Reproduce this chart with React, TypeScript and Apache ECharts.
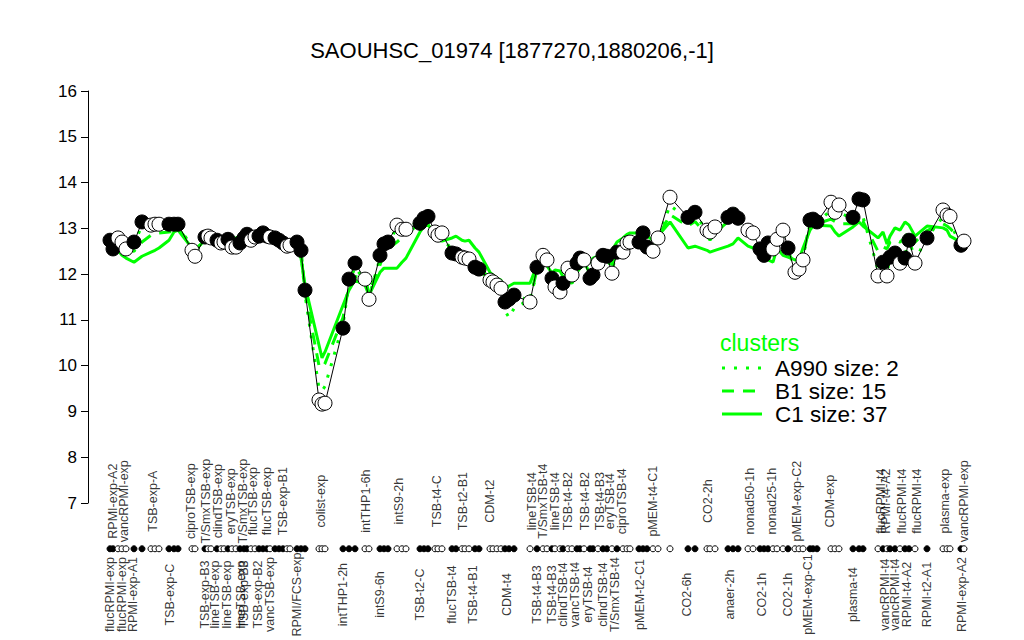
import React, { useEffect, useRef } from "react";
import * as echarts from "echarts";

// sample positions along the condition axis (with gaps between condition groups)
const samplePos = [
  22, 25, 30, 34, 38, 46, 54, 63, 67, 71, 81, 86, 90, 104, 107, 117, 120, 123, 129, 133,
  136, 140, 144, 148, 152, 156, 159, 163, 167, 171, 175, 179, 182, 187, 191, 195, 199, 202, 209, 213,
  217, 231, 234, 237, 255, 261, 267, 277, 281, 292, 296, 300, 309, 314, 318, 332, 336, 340, 347, 350,
  354, 364, 368, 374, 377, 381, 387, 391, 402, 405, 409, 413, 417, 421, 426, 442, 449, 455, 459, 464,
  467, 472, 475, 480, 484, 489, 492, 496, 502, 505, 510, 515, 519, 524, 529, 535, 539, 542, 551, 555,
  559, 565, 570, 582, 600, 607, 619, 622, 627, 640, 645, 650, 660, 665, 672, 676, 680, 685, 689, 695,
  700, 707, 711, 715, 722, 725, 729, 743, 747, 751, 765, 771, 775, 790, 795, 799, 802, 807, 812, 817,
  821, 827, 839, 855, 859, 862, 873, 876,
];

// expression of SAOUHSC_01974 per sample
const expression = [
  12.74, 12.55, 12.79, 12.7, 12.55, 12.7, 13.14, 13.07, 13.09, 13.09, 13.09, 13.09, 13.09, 12.52, 12.39, 12.81, 12.83, 12.79, 12.74, 12.68,
  12.7, 12.76, 12.59, 12.59, 12.68, 12.79, 12.87, 12.74, 12.81, 12.83, 12.9, 12.83, 12.81, 12.79, 12.74, 12.68, 12.61, 12.63, 12.7, 12.52,
  11.65, 9.25, 9.16, 9.18, 10.82, 11.89, 12.24, 11.89, 11.45, 12.41, 12.66, 12.7, 13.07, 12.98, 12.98, 13.11, 13.22, 13.26, 12.92, 12.85,
  12.9, 12.46, 12.44, 12.37, 12.35, 12.33, 12.15, 12.11, 11.87, 11.83, 11.76, 11.69, 11.39, 11.45, 11.54, 11.39, 12.15, 12.41, 12.31, 11.91,
  11.72, 11.61, 11.8, 12.13, 11.98, 12.24, 12.35, 12.31, 11.91, 11.98, 12.24, 12.41, 12.39, 12.02, 12.48, 12.48, 12.68, 12.7, 12.7, 12.9,
  12.59, 12.5, 12.79, 13.68, 13.24, 13.35, 12.96, 12.92, 13.03, 13.24, 13.31, 13.22, 12.96, 12.9, 12.55, 12.41, 12.68, 12.55, 12.76, 12.96,
  12.57, 12.04, 12.11, 12.31, 13.18, 13.2, 13.14, 13.57, 13.35, 13.51, 13.24, 13.64, 13.62, 11.96, 12.26, 11.96, 12.37, 12.46, 12.24, 12.35,
  12.74, 12.24, 12.79, 13.4, 13.29, 13.26, 12.63, 12.72,
];

// 1 = filled marker, 0 = open marker
const isFilled = [
  1, 1, 0, 0, 0, 1, 1, 0, 0, 0, 1, 1, 1, 0, 0, 1, 0, 0, 1, 0,
  0, 1, 0, 0, 1, 1, 1, 0, 0, 1, 1, 1, 0, 1, 1, 1, 0, 0, 1, 1,
  1, 0, 0, 0, 1, 1, 1, 0, 0, 1, 1, 1, 0, 0, 0, 1, 1, 1, 0, 0,
  0, 1, 1, 0, 0, 0, 1, 1, 0, 0, 0, 0, 1, 1, 1, 0, 1, 0, 0, 1,
  0, 0, 1, 0, 0, 1, 1, 0, 1, 1, 0, 1, 1, 0, 1, 0, 0, 0, 1, 1,
  1, 0, 0, 0, 1, 1, 0, 0, 0, 1, 1, 1, 0, 0, 1, 1, 1, 0, 0, 0,
  1, 0, 0, 0, 1, 1, 1, 0, 0, 0, 1, 1, 1, 0, 1, 0, 1, 1, 0, 1,
  1, 0, 1, 0, 0, 0, 1, 0,
];

// cluster mean profiles
const clusterC1 = [
  12.63, 12.59, 12.52, 12.41, 12.35, 12.26, 12.39, 12.48, 12.52, 12.57, 12.74, 12.92, 12.96, 12.57, 12.52, 12.74, 12.79, 12.74, 12.7, 12.74,
  12.79, 12.83, 12.74, 12.79, 12.83, 12.87, 12.92, 12.87, 12.92, 12.9, 12.92, 12.87, 12.83, 12.81, 12.79, 12.74, 12.7, 12.66, 12.52, 12.35,
  11.76, 10.45, 10.17, 10.3, 11.32, 11.65, 11.87, 11.76, 11.54, 12.04, 12.13, 12.13, 12.13, 12.26, 12.35, 12.92, 13.05, 13.09, 12.83, 12.74,
  12.72, 12.79, 12.83, 12.74, 12.72, 12.74, 12.57, 12.48, 12.04, 11.98, 11.91, 11.87, 11.65, 11.74, 11.8, 11.8, 12.2, 12.22, 12.18, 12.02,
  12.09, 12.07, 11.94, 11.87, 11.8, 12.04, 12.13, 12.2, 12.26, 12.35, 12.39, 12.41, 12.37, 12.52, 12.7, 12.79, 12.87, 12.9, 12.9, 12.92,
  12.83, 12.74, 12.83, 13.14, 12.57, 12.61, 12.52, 12.48, 12.52, 12.61, 12.66, 12.79, 12.61, 12.57, 12.52, 12.48, 12.31, 12.26, 12.57, 12.41,
  12.37, 12.31, 12.31, 12.57, 12.96, 13.05, 13.07, 13.05, 12.92, 12.83, 13.03, 13.14, 13.05, 12.79, 12.92, 12.66, 12.83, 13.01, 12.96, 13.14,
  13.07, 12.83, 13.05, 13.01, 12.96, 12.83, 12.7, 12.66,
];

const clusterB1 = [
  12.7, 12.62, 12.72, 12.65, 12.55, 12.5, 12.7, 12.85, 12.88, 12.9, 12.92, 12.95, 13.0, 12.62, 12.55, 12.72, 12.78, 12.8, 12.72, 12.7,
  12.72, 12.75, 12.68, 12.7, 12.75, 12.8, 12.85, 12.8, 12.82, 12.85, 12.88, 12.85, 12.82, 12.8, 12.76, 12.72, 12.68, 12.66, 12.68, 12.55,
  11.6, 10.0, 9.95, 10.05, 11.05, 11.75, 11.95, 11.9, 11.6, 12.2, 12.45, 12.55, 12.7, 12.8, 12.88, 13.1, 13.2, 13.25, 12.95, 12.88,
  12.85, 12.5, 12.48, 12.42, 12.4, 12.38, 12.2, 12.15, 11.9, 11.85, 11.8, 11.72, 11.4, 11.45, 11.5, 11.45, 12.1, 12.3, 12.25, 11.95,
  11.85, 11.8, 11.9, 12.05, 11.95, 12.2, 12.3, 12.28, 12.0, 12.05, 12.25, 12.38, 12.38, 12.2, 12.5, 12.6, 12.7, 12.75, 12.8, 12.88,
  12.7, 12.6, 12.8, 13.3, 13.05, 13.15, 12.85, 12.74, 12.9, 13.15, 13.25, 13.2, 12.9, 12.85, 12.55, 12.45, 12.6, 12.55, 12.7, 12.7,
  12.5, 12.15, 12.2, 12.4, 13.1, 13.15, 13.1, 13.2, 13.15, 13.1, 13.1, 13.2, 13.15, 12.5, 12.6, 12.55, 12.7, 12.75, 12.7, 12.8,
  12.95, 12.7, 12.95, 13.1, 13.05, 13.0, 12.75, 12.7,
];

const clusterA990 = [
  12.72, 12.58, 12.76, 12.7, 12.58, 12.68, 13.05, 13.05, 13.08, 13.07, 13.1, 13.1, 13.12, 12.55, 12.45, 12.8, 12.82, 12.8, 12.75, 12.7,
  12.72, 12.78, 12.62, 12.62, 12.7, 12.8, 12.88, 12.76, 12.82, 12.85, 12.92, 12.95, 12.9, 12.8, 12.75, 12.7, 12.65, 12.78, 12.72, 12.5,
  11.55, 9.5, 9.45, 9.55, 10.9, 11.8, 12.15, 11.85, 11.5, 12.35, 12.62, 12.7, 13.0, 12.98, 13.0, 13.15, 13.28, 13.35, 12.95, 12.88,
  12.88, 12.48, 12.46, 12.4, 12.38, 12.35, 12.18, 12.12, 11.85, 11.8, 11.72, 11.6, 11.2, 11.05, 11.25, 11.45, 12.05, 12.35, 12.28, 11.95,
  11.8, 11.75, 11.85, 12.0, 11.9, 12.22, 12.3, 12.28, 11.95, 12.0, 12.22, 12.38, 12.35, 12.1, 12.45, 12.55, 12.68, 12.7, 12.75, 12.92,
  12.65, 12.55, 12.78, 13.5, 13.2, 13.3, 12.95, 12.9, 13.0, 13.28, 13.4, 13.45, 12.95, 12.88, 12.58, 12.45, 12.65, 12.55, 12.75, 12.9,
  12.55, 12.1, 12.15, 12.35, 13.15, 13.18, 13.12, 13.4, 13.3, 13.35, 13.2, 13.3, 13.25, 12.1, 12.3, 12.0, 12.4, 12.45, 12.3, 12.4,
  12.78, 12.3, 12.8, 13.25, 13.2, 13.1, 12.65, 12.7,
];

// condition labels above and below the marker row
const topLabelPos = [
  25, 36, 65, 103, 118, 130, 143, 155, 165, 179, 195, 233, 278, 311, 349, 375, 402, 444, 455, 467,
  480, 497, 512, 522, 534, 565, 620, 662, 684, 709, 742, 793, 798, 814, 829, 857, 876,
];
const topLabelText = [
  "RPMI-exp-A2", "vancRPMI-exp", "TSB-exp-A", "ciproTSB-exp", "T/SmxTSB-exp", "clindTSB-exp", "eryTSB-exp",
  "T/SmxTSB-exp", "flucTSB-exp", "flucTSB-exp", "TSB-exp-B1", "colist-exp", "intTHP1-6h", "intS9-2h",
  "TSB-t4-C", "TSB-t2-B1", "CDM-t2", "lineTSB-t4", "T/SmxTSB-t4", "lineTSB-t4", "TSB-t4-B2", "TSB-t4-B2",
  "TSB-t4-B3", "eryTSB-t4", "ciproTSB-t4", "pMEM-t4-C1", "CO2-2h", "nonad50-1h", "nonad25-1h",
  "pMEM-exp-C2", "CDM-exp", "flucRPMI-t4", "RPMI-t4-A2", "flucRPMI-t4", "flucRPMI-t4", "plasma-exp", "vancRPMI-exp",
];
const bottomLabelPos = [
  22, 34, 45, 82, 117, 127, 139, 153, 156, 170, 182, 209, 255, 292, 332, 364, 385, 419, 449, 464,
  475, 487, 500, 515, 527, 552, 599, 642, 674, 700, 720, 765, 797, 807, 819, 839, 874,
];
const bottomLabelText = [
  "flucRPMI-exp", "flucRPMI-exp", "RPMI-exp-A1", "TSB-exp-C", "TSB-exp-B3", "lineTSB-exp", "lineTSB-exp",
  "lineTSB-exp", "TSB-exp-B3", "TSB-exp-B2", "vancTSB-exp", "RPMI/FCS-exp", "intTHP1-2h", "intS9-6h",
  "TSB-t2-C", "flucTSB-t4", "TSB-t4-B1", "CDM-t4", "TSB-t4-B3", "TSB-t4-B3", "clindTSB-t4", "vancTSB-t4",
  "eryTSB-t4", "clindTSB-t4", "T/SmxTSB-t4", "pMEM-t2-C1", "CO2-6h", "anaer-2h", "CO2-1h", "CO2-1h",
  "pMEM-exp-C1", "plasma-t4", "vancRPMI-t4", "vancRPMI-t4", "RPMI-t4-A2", "RPMI-t2-A1", "RPMI-exp-A2",
];

const legendNames = ["A990 size: 2", "B1 size: 15", "C1 size: 37"];
const titleText = "SAOUHSC_01974 [1877270,1880206,-1]";

const Y_MIN = 7;
const Y_MAX = 16;
const ROW_LEVEL = 6.0;
const TOP_LABEL_LEVEL = 7.04;
const BOTTOM_LABEL_LEVEL = 5.0;

const GREEN = "#00ff00";
const FONT = "'Liberation Sans', Arial, Helvetica, sans-serif";

export default function App() {
  const ref = useRef<HTMLDivElement>(null);

  useEffect(() => {
    if (!ref.current) return;
    const chart = echarts.init(ref.current, null, { renderer: "svg" });

    const pairs = (ys: number[]) => samplePos.map((x, i) => [x, ys[i]]);
    const markerStyle = (f: number) =>
      f
        ? { color: "#000", borderColor: "#000", borderWidth: 1, opacity: 1 }
        : { color: "#fff", borderColor: "#000", borderWidth: 1, opacity: 1 };

    const pointData = samplePos.map((x, i) => ({
      value: [x, expression[i]],
      itemStyle: markerStyle(isFilled[i]),
    }));
    const rowData = samplePos.map((x, i) => ({
      value: [x, ROW_LEVEL],
      itemStyle: markerStyle(isFilled[i]),
    }));
    const labelSeries = (pos: number[], texts: string[], level: number) => ({
      type: "scatter",
      silent: true,
      clip: false,
      symbolSize: 1,
      itemStyle: { color: "rgba(0,0,0,0)" },
      data: pos.map((x, i) => ({ value: [x, level], name: texts[i] })),
      label: {
        show: true,
        position: "inside",
        rotate: 90,
        align: "center",
        verticalAlign: "middle",
        formatter: "{b}",
        color: "#000",
        fontSize: 12.5,
        fontFamily: FONT,
      },
      z: 5,
    });

    const legendY = [368, 391, 414];
    const legendDash = [[3, 9], [12, 9], null];

    chart.setOption({
      animation: false,
      textStyle: { fontFamily: FONT },
      title: {
        text: titleText,
        left: "center",
        top: 34,
        textStyle: { fontSize: 22, fontWeight: "normal", color: "#000", fontFamily: FONT },
      },
      grid: { left: 88, right: 34, top: 91, bottom: 137 },
      xAxis: { type: "value", min: 0, max: 902, show: false },
      yAxis: {
        type: "value",
        min: Y_MIN,
        max: Y_MAX,
        interval: 1,
        axisLine: { show: true, lineStyle: { color: "#000", width: 1 } },
        axisTick: { show: true, length: 7, lineStyle: { color: "#000" } },
        axisLabel: { color: "#000", fontSize: 17, margin: 11, fontFamily: FONT },
        splitLine: { show: false },
      },
      series: [
        {
          type: "line",
          data: pairs(clusterC1),
          symbol: "none",
          silent: true,
          lineStyle: { color: GREEN, width: 3 },
          z: 2,
        },
        {
          type: "line",
          data: pairs(clusterB1),
          symbol: "none",
          silent: true,
          lineStyle: { color: GREEN, width: 3, type: [12, 9] },
          z: 2,
        },
        {
          type: "line",
          data: pairs(clusterA990),
          symbol: "none",
          silent: true,
          lineStyle: { color: GREEN, width: 3, type: [3, 9], cap: "butt" },
          z: 2,
        },
        {
          type: "line",
          data: pairs(expression),
          symbol: "none",
          silent: true,
          lineStyle: { color: "#000", width: 1 },
          z: 3,
        },
        {
          type: "scatter",
          data: pointData,
          symbol: "circle",
          symbolSize: 14,
          silent: true,
          z: 4,
        },
        {
          type: "scatter",
          data: rowData,
          symbol: "circle",
          symbolSize: 6,
          clip: false,
          silent: true,
          z: 4,
        },
        labelSeries(topLabelPos, topLabelText, TOP_LABEL_LEVEL),
        labelSeries(bottomLabelPos, bottomLabelText, BOTTOM_LABEL_LEVEL),
      ],
      graphic: [
        {
          type: "text",
          x: 720,
          y: 343,
          style: {
            text: "clusters",
            fill: GREEN,
            fontSize: 23,
            fontFamily: FONT,
            verticalAlign: "middle",
          },
        },
        ...legendNames.flatMap((name, i) => [
          {
            type: "line",
            shape: { x1: 722, y1: legendY[i], x2: 762, y2: legendY[i] },
            style: {
              stroke: GREEN,
              lineWidth: 3,
              lineDash: legendDash[i] || undefined,
            },
          },
          {
            type: "text",
            x: 775,
            y: legendY[i],
            style: {
              text: name,
              fill: "#000",
              fontSize: 22.5,
              fontFamily: FONT,
              verticalAlign: "middle",
            },
          },
        ]),
      ],
    });

    return () => chart.dispose();
  }, []);

  return (
    <div
      ref={ref}
      style={{ position: "fixed", left: 0, top: 0, width: 1024, height: 640, background: "#fff" }}
    />
  );
}
